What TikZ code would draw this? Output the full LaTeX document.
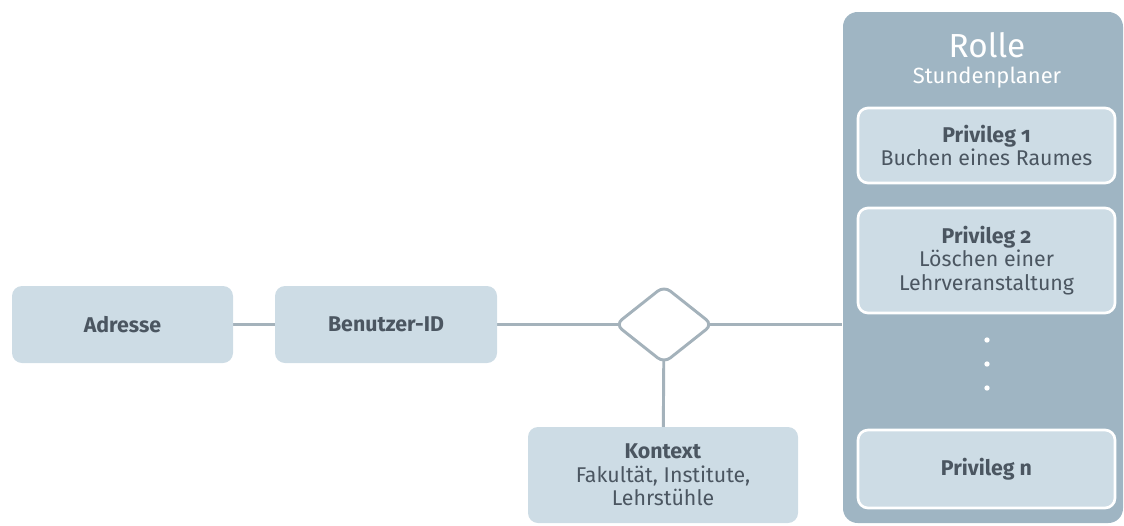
\documentclass[tikz,border=0pt]{standalone}
\usepackage{fontspec}
\setmainfont{Fira Sans}[Numbers=OldStyle]
\usetikzlibrary{shapes.geometric,backgrounds}
\definecolor{myBox}{HTML}{cddce5}
\definecolor{myRole}{HTML}{9fb5c3}
\definecolor{myLine}{HTML}{a4b2bb}
\definecolor{myText}{HTML}{4b5661}

\begin{document}
\begin{tikzpicture}[x=0.75pt, y=-0.75pt, line width=2.2pt, myLine]

  \tikzstyle{E}=[rectangle, rounded corners=7.5pt, fill=myBox, text=myText, inner sep=0pt, align=center, font=\fontsize{16}{17.6}\selectfont]
  \tikzstyle{P}=[E, draw=white, line width=2pt, minimum width=192.75pt]
  \tikzstyle{R}=[diamond, rounded corners=6pt, draw, fill=white, minimum width=73.5pt, minimum height=58.5pt, inner sep=0pt]
  \tikzstyle{T}=[text=white, inner sep=0pt, align=center]
  \tikzstyle{L}=[draw=myLine, line width=2.2pt]

  \useasboundingbox (0,0) rectangle (1124,525);

  \node[E, minimum width=165.75pt, minimum height=57.75pt] at (122.5,324.5) (adresse) {\textbf{Adresse}};
  \node[E, minimum width=166.5pt, minimum height=57.75pt] at (386,324.5) (benutzer) {\textbf{Benutzer-ID}};
  \node[R] at (664,324.5) (raute) {};
  \node[E, minimum width=202.5pt, minimum height=72pt] at (663,475) (kontext) {\textbf{Kontext}\\Fakultät, Institute,\\Lehrstühle};

  % Rolle
  \node[rectangle, rounded corners=11pt, fill=myRole, minimum width=210pt, minimum height=383.25pt] at (983,267.5) (rolle) {};
  \node[T, font=\fontsize{25}{28}\selectfont] at (987,45) (rollename) {Rolle};
  \node[T, font=\fontsize{16.5}{18}\selectfont] at (987,78) (rollesub) {Stundenplaner};

  \node[P, minimum height=56.25pt] at (986.5,145.5) (priv1) {\textbf{Privileg 1}\\Buchen eines Raumes};
  \node[P, minimum height=78.75pt] at (986.5,260.5) (priv2) {\textbf{Privileg 2}\\Löschen einer\\Lehrveranstaltung};
  \node[P, minimum height=58.5pt] at (986.5,469) (privn) {\textbf{Privileg n}};

  \foreach \y in {340,364,388}
    \fill[white] (987,\y) circle (2pt);

  \begin{scope}[on background layer]
    \draw[L] (adresse.center) -- (benutzer.center);
    \draw[L] (benutzer.center) -- (raute.center);
    \draw[L] (raute.center) -- (raute.center -| rolle.west);
    \draw[L] (raute.center) -- (kontext.center);
  \end{scope}

\end{tikzpicture}
\end{document}
